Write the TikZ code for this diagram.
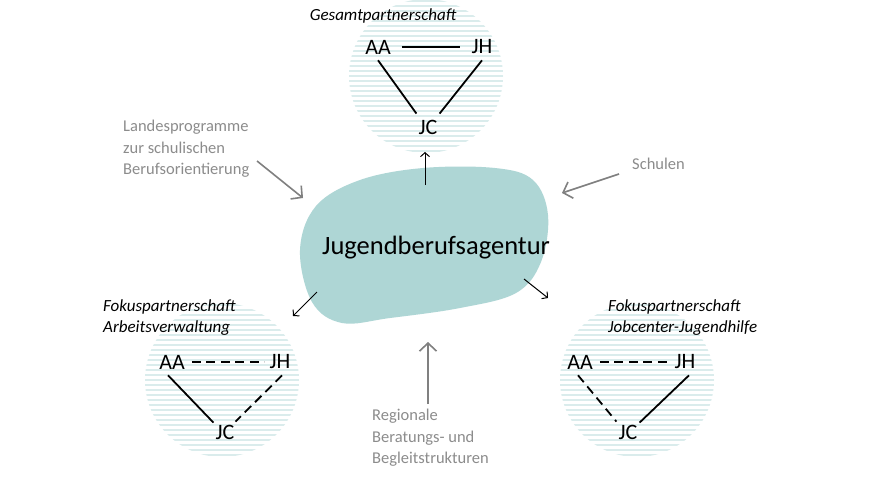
\documentclass[tikz,border=0pt]{standalone}
\usepackage{fontspec}
\setmainfont{Carlito}
\usetikzlibrary{arrows.meta}
\definecolor{blob}{HTML}{AED6D5}
\definecolor{stripe}{HTML}{DAECEC}
\definecolor{graytxt}{HTML}{8C8C8C}
\definecolor{grayarr}{HTML}{808080}
\tikzset{
  actor/.style={inner sep=1pt, font=\fontsize{22}{24}\selectfont, text=black},
  solidlink/.style={line width=1.8pt, black},
  dashlink/.style={line width=1.8pt, black, dash pattern=on 9pt off 5.5pt},
  title/.style={font=\fontsize{17}{21}\itshape\selectfont, align=left, anchor=west, inner sep=0pt},
  graylabel/.style={font=\fontsize{16.5}{21.5}\selectfont, text=graytxt, align=left, anchor=north west, inner sep=0pt},
  grayarrow/.style={line width=1.6pt, grayarr, -{Straight Barb[length=8pt,width=17pt,line width=1.6pt]}},
  smallarrow/.style={line width=1pt, black, -{Straight Barb[length=4pt,width=9pt,line width=1pt]}},
  stripeline/.style={line width=1.8pt, stripe},
}
\newcommand{\stripecircle}[2]{%
  \begin{scope}
    \clip (#1,#2) circle[radius=77pt];
    \foreach \d in {-80,-75,...,80}{\draw[stripeline] (#1-80,#2+\d) -- (#1+80,#2+\d);}
  \end{scope}}
\begin{document}
\begin{tikzpicture}[x=1pt,y=-1pt]
\useasboundingbox (0,0) rectangle (875,480);
\fill[white] (0,0) rectangle (875,480);

% striped circles
\stripecircle{426}{76}
\stripecircle{222}{380}
\stripecircle{637}{380}

% blob
\fill[blob] plot[smooth cycle, tension=0.6] coordinates {
  (300,250) (316,206) (360,180) (423,168) (495,168) (533,180) (548,215)
  (541,262) (516,293) (460,308) (390,318) (342,323) (312,302)};
\node[font=\fontsize{26.5}{28}\selectfont] (jba) at (436,248) {Jugendberufsagentur};

% top circle
\node[title, anchor=center] (tt) at (383,16) {Gesamtpartnerschaft};
\node[actor] (tAA) at (378,47) {AA};
\node[actor] (tJH) at (482,47) {JH};
\node[actor] (tJC) at (428,127) {JC};
\draw[solidlink] ([xshift=10pt]tAA.east) -- ([xshift=-10pt]tJH.west);
\draw[solidlink] ([yshift=-5pt]tAA.south) -- ([xshift=-1pt,yshift=5pt]tJC.north west);
\draw[solidlink] ([yshift=-5pt]tJH.south) -- ([xshift=1pt,yshift=5pt]tJC.north east);

% bottom left circle
\node[title] (blt) at (103,307) {Fokuspartnerschaft};
\node[title] (blt2) at (103,328) {Arbeitsverwaltung};
\node[actor] (lAA) at (172,362) {AA};
\node[actor] (lJH) at (280,362) {JH};
\node[actor] (lJC) at (225,432) {JC};
\draw[dashlink] ([xshift=6pt]lAA.east) -- ([xshift=-4pt]lJH.west);
\draw[solidlink] ([xshift=-4pt,yshift=-5pt]lAA.south) -- ([xshift=-1pt,yshift=1pt]lJC.north west);
\draw[dashlink] ([xshift=2pt,yshift=-5pt]lJH.south) -- ([xshift=0pt,yshift=2pt]lJC.north east);

% bottom right circle
\node[title] (brt) at (608,307) {Fokuspartnerschaft};
\node[title] (brt2) at (608,328) {Jobcenter-Jugendhilfe};
\node[actor] (rAA) at (580,362) {AA};
\node[actor] (rJH) at (685,362) {JH};
\node[actor] (rJC) at (628,432) {JC};
\draw[dashlink] ([xshift=6pt]rAA.east) -- ([xshift=-4pt]rJH.west);
\draw[dashlink] ([xshift=-2pt,yshift=-5pt]rAA.south) -- ([xshift=-1pt,yshift=2pt]rJC.north west);
\draw[solidlink] ([xshift=4pt,yshift=-5pt]rJH.south) -- ([xshift=1pt,yshift=1pt]rJC.north east);

% small black arrows from blob
\coordinate (a1s) at (425,185); \coordinate (a1e) at (425,152);
\coordinate (a2s) at (317,292); \coordinate (a2e) at (293,316);
\coordinate (a3s) at (524,279); \coordinate (a3e) at (548,298);
\draw[smallarrow] (a1s) -- (a1e);
\draw[smallarrow] (a2s) -- (a2e);
\draw[smallarrow] (a3s) -- (a3e);

% gray labels and arrows
\node[graylabel] (lp) at (123,120) {Landesprogramme\\zur schulischen\\Berufsorientierung};
\node[graylabel] (sch) at (632,158) {Schulen};
\node[graylabel] (reg) at (372,409) {Regionale\\Beratungs-~und\\Begleitstrukturen};
\coordinate (g1s) at (257,161); \coordinate (g1e) at (303,198);
\coordinate (g2s) at (619,174); \coordinate (g2e) at (562,193);
\coordinate (g3s) at (428,404); \coordinate (g3e) at (428,342);
\draw[grayarrow] (g1s) -- (g1e);
\draw[grayarrow] (g2s) -- (g2e);
\draw[grayarrow] (g3s) -- (g3e);
\end{tikzpicture}
\end{document}
